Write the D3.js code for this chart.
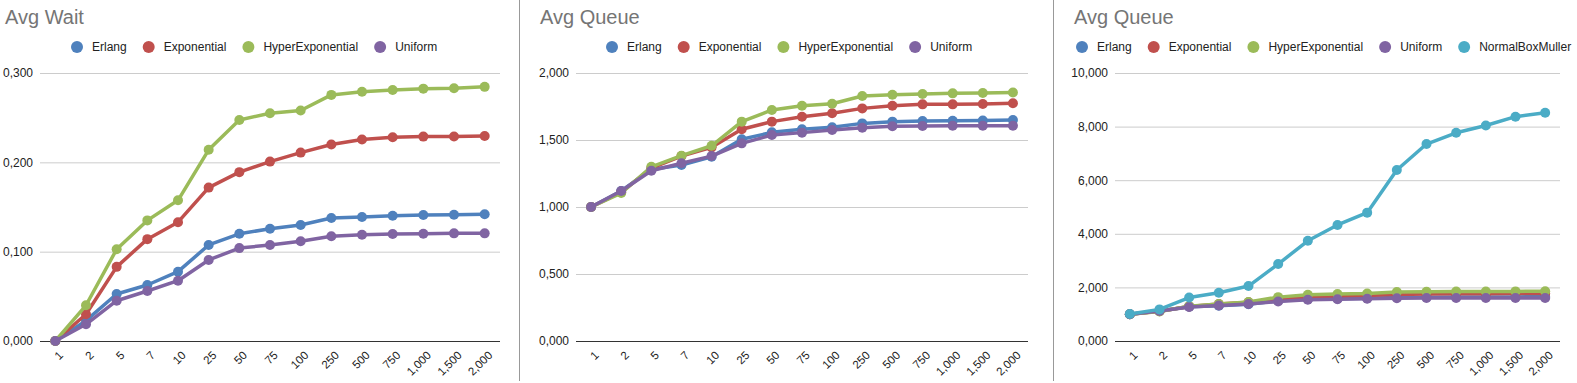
<!DOCTYPE html>
<html><head><meta charset="utf-8">
<script src="https://cdn.jsdelivr.net/npm/d3@7/dist/d3.min.js"></script>
<style>body{margin:0;background:#fff;}svg{display:block;font-family:Arial,"Liberation Sans",sans-serif;}</style>
</head><body>
<script>
const categories = ["1","2","5","7","10","25","50","75","100","250","500","750","1,000","1,500","2,000"];

const waitErlang      = [0, 0.0228, 0.0526, 0.0627, 0.0776, 0.1075, 0.120, 0.1257, 0.1299, 0.1377, 0.1388, 0.1403, 0.1410, 0.1414, 0.1418];
const waitExponential = [0, 0.030, 0.083, 0.114, 0.133, 0.1717, 0.189, 0.2008, 0.2109, 0.2199, 0.2255, 0.228, 0.2288, 0.229, 0.2295];
const waitHyper       = [0, 0.040, 0.1027, 0.135, 0.1575, 0.214, 0.2474, 0.255, 0.258, 0.2755, 0.279, 0.281, 0.2825, 0.283, 0.2845];
const waitUniform     = [0, 0.0187, 0.0451, 0.056, 0.0675, 0.0907, 0.104, 0.1075, 0.1116, 0.1172, 0.119, 0.1198, 0.120, 0.1205, 0.1205];

const queueErlang      = [1.000, 1.120, 1.280, 1.313, 1.375, 1.505, 1.557, 1.580, 1.595, 1.624, 1.637, 1.642, 1.644, 1.646, 1.649];
const queueExponential = [1.000, 1.110, 1.290, 1.380, 1.445, 1.580, 1.637, 1.674, 1.699, 1.736, 1.756, 1.766, 1.766, 1.769, 1.774];
const queueHyper       = [1.000, 1.104, 1.300, 1.383, 1.457, 1.637, 1.724, 1.756, 1.771, 1.828, 1.838, 1.843, 1.848, 1.851, 1.855];
const queueUniform     = [1.000, 1.119, 1.271, 1.326, 1.380, 1.475, 1.537, 1.555, 1.575, 1.592, 1.602, 1.604, 1.607, 1.607, 1.607];
const queueNormal      = [1.007, 1.18, 1.62, 1.80, 2.05, 2.87, 3.74, 4.33, 4.79, 6.38, 7.35, 7.77, 8.04, 8.37, 8.52];

const ticksWait   = [0, 0.1, 0.2, 0.3];
const ticksQueue  = [0, 0.5, 1.0, 1.5, 2.0];
const ticksQueue2 = [0, 2, 4, 6, 8, 10];

const seriesNames = ["Erlang","Exponential","HyperExponential","Uniform","NormalBoxMuller"];
const colors = ["#4F81BD","#C0504D","#9BBB59","#8064A2","#4BACC6"];

const W = 1577, H = 383;
const svg = d3.select("body").append("svg").attr("width", W).attr("height", H);

const fmt = v => d3.format(".3f")(v).replace(".", ",");

const panels = [
  {title:"Avg Wait", tx:5, left:40, right:500, legendX:77, ticks:ticksWait, max:0.3,
   series:[waitErlang, waitExponential, waitHyper, waitUniform]},
  {title:"Avg Queue", tx:540, left:576, right:1028, legendX:612, ticks:ticksQueue, max:2,
   series:[queueErlang, queueExponential, queueHyper, queueUniform]},
  {title:"Avg Queue", tx:1074, left:1115, right:1560, legendX:1082, ticks:ticksQueue2, max:10,
   series:[queueErlang, queueExponential, queueHyper, queueUniform, queueNormal]}
];

const plotTop = 73, plotBottom = 341;

panels.forEach(p => {
  const g = svg.append("g");
  const x = d3.scalePoint().domain(categories).range([p.left, p.right]).padding(0.5);
  const y = d3.scaleLinear().domain([0, p.max]).range([plotBottom, plotTop]);

  g.append("text").attr("x", p.tx).attr("y", 24).attr("font-size", 20).attr("fill", "#757575").text(p.title);

  let lx = p.legendX;
  p.series.forEach((s, i) => {
    g.append("circle").attr("cx", lx).attr("cy", 47).attr("r", 6).attr("fill", colors[i]);
    const t = g.append("text").attr("x", lx + 15).attr("y", 47).attr("dy", "0.35em")
      .attr("font-size", 12).attr("fill", "#222").text(seriesNames[i]);
    lx += 15 + t.node().getComputedTextLength() + 22;
  });

  const yAxis = d3.axisLeft(y).tickValues(p.ticks).tickFormat(fmt).tickSize(-(p.right - p.left)).tickPadding(7);
  const ya = g.append("g").attr("transform", `translate(${p.left},0)`).call(yAxis);
  ya.select(".domain").remove();
  ya.selectAll(".tick line").attr("stroke", "#cccccc");
  ya.selectAll(".tick text").attr("font-size", 12).attr("fill", "#222").attr("font-family", "Arial, 'Liberation Sans', sans-serif");
  ya.selectAll(".tick").filter(d => d === 0).select("line").attr("stroke", "#333");

  const xAxis = d3.axisBottom(x).tickSize(0).tickPadding(0);
  const xa = g.append("g").attr("transform", `translate(0,${plotBottom})`).call(xAxis);
  xa.select(".domain").remove();
  xa.selectAll(".tick text")
    .attr("font-size", 11.5).attr("fill", "#222").attr("font-family", "Arial, 'Liberation Sans', sans-serif")
    .attr("text-anchor", "end").attr("y", 0).attr("dy", 0)
    .attr("transform", "translate(8,15) rotate(-45)");

  const line = d3.line().x((d, i) => x(categories[i])).y(d => y(d));
  p.series.forEach((s, i) => {
    g.append("path").datum(s).attr("d", line).attr("fill", "none")
      .attr("stroke", colors[i]).attr("stroke-width", 3.5).attr("stroke-linejoin", "round");
    g.selectAll(null).data(s).enter().append("circle")
      .attr("cx", (d, j) => x(categories[j])).attr("cy", d => y(d)).attr("r", 5).attr("fill", colors[i]);
  });
});

[519.5, 1053.5].forEach(sx => {
  svg.append("line").attr("x1", sx).attr("x2", sx).attr("y1", 0).attr("y2", 381)
    .attr("stroke", "#999").attr("stroke-width", 1);
});
</script>
</body></html>
